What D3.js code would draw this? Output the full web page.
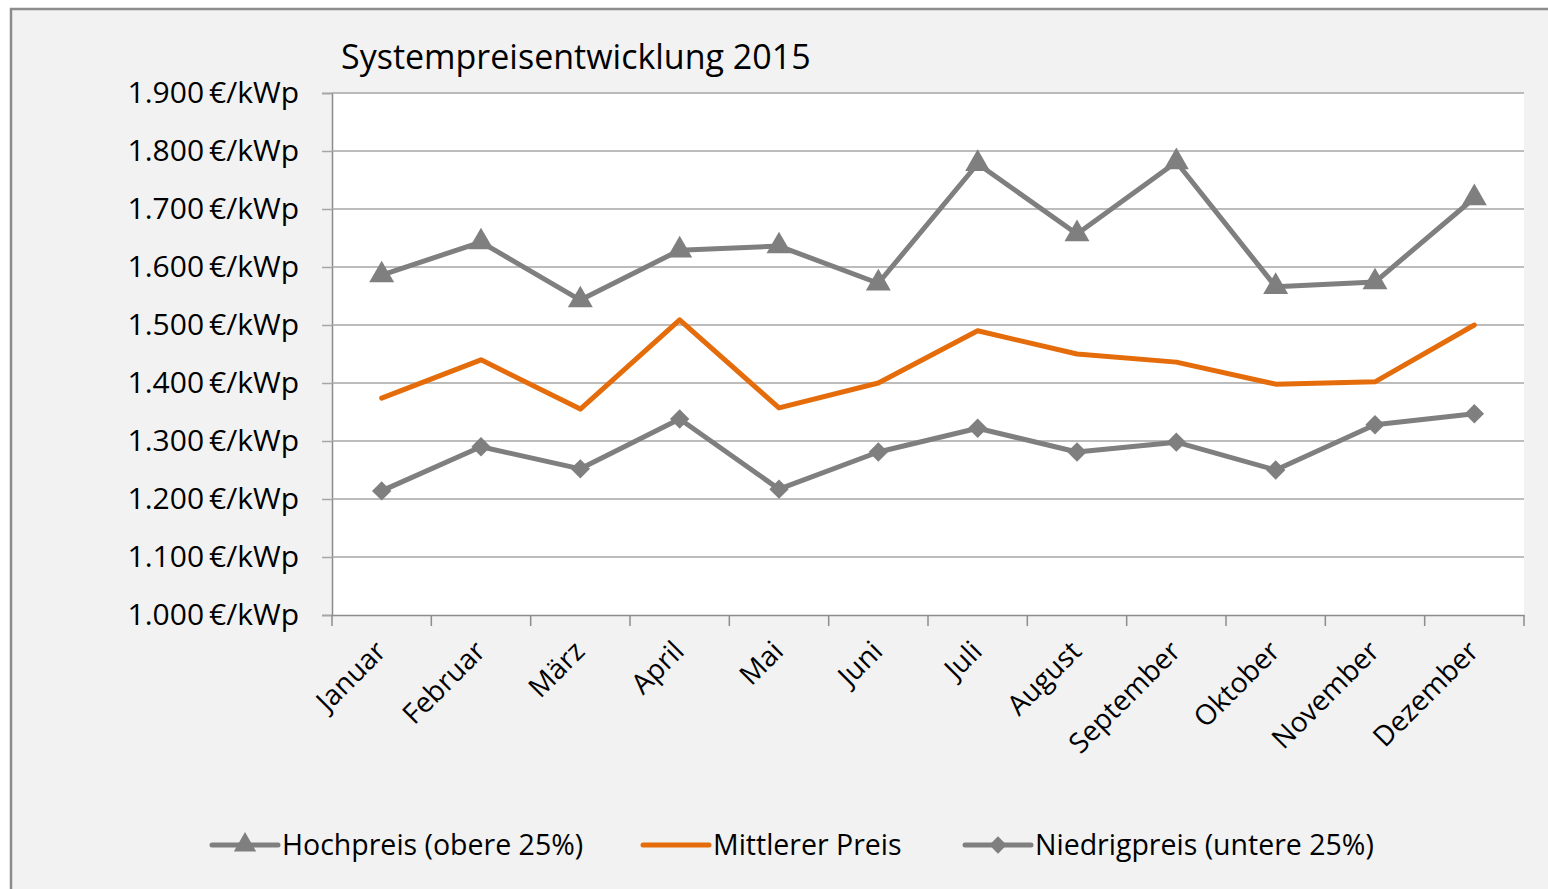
<!DOCTYPE html>
<html>
<head>
<meta charset="utf-8">
<script src="https://cdn.jsdelivr.net/npm/d3@7"></script>
<style>
  body { margin: 0; background: #ffffff; }
  text { font-family: "Open Sans", "Noto Sans", sans-serif; fill: #000; }
</style>
</head>
<body>
<div id="chart"></div>
<script>
const months = ['Januar', 'Februar', 'März', 'April', 'Mai', 'Juni', 'Juli',
    'August', 'September', 'Oktober', 'November', 'Dezember'];
const hochpreis = [1586, 1643, 1543, 1629, 1636, 1572, 1778, 1657, 1781, 1566, 1574, 1719];
const mittlerer = [1374, 1440, 1355, 1509, 1357, 1400, 1490, 1450, 1436, 1398, 1402, 1500];
const niedrigpreis = [1214, 1290, 1252, 1338, 1217, 1281, 1322, 1281, 1298, 1250, 1328, 1347];
const y_ticks = [1000, 1100, 1200, 1300, 1400, 1500, 1600, 1700, 1800, 1900];
const legend_labels = ['Hochpreis (obere 25%)', 'Mittlerer Preis', 'Niedrigpreis (untere 25%)'];

const width = 1548, height = 889;
const grey = '#7f7f7f';
const orange = '#e46c0a';

const svg = d3.select('#chart')
    .append('svg')
    .attr('width', width)
    .attr('height', height);

// chart frame
svg.append('rect')
    .attr('x', 11).attr('y', 9)
    .attr('width', width + 20).attr('height', height + 20)
    .attr('fill', '#f2f2f2')
    .attr('stroke', '#8c8c8c')
    .attr('stroke-width', 2.5);

const plot_left = 332, plot_right = 1524, plot_top = 93, plot_bottom = 615;

const x = d3.scaleBand().domain(months).range([plot_left, plot_right]);
const y = d3.scaleLinear().domain([1000, 1900]).range([plot_bottom, plot_top]);

// plot area
svg.append('rect')
    .attr('x', plot_left).attr('y', plot_top)
    .attr('width', plot_right - plot_left).attr('height', plot_bottom - plot_top)
    .attr('fill', '#ffffff');

// title
svg.append('text')
    .attr('x', 341).attr('y', 69)
    .attr('font-size', 34)
    .text('Systempreisentwicklung 2015');

// y axis with gridlines
const fmt = d => d3.format(',')(d).replace(',', '.') + '\u2009€/kWp';
const y_axis = svg.append('g')
    .attr('transform', `translate(${plot_left},0)`)
    .call(d3.axisLeft(y).tickValues(y_ticks).tickSize(10).tickFormat(fmt));
y_axis.select('.domain').attr('stroke', '#8c8c8c').attr('stroke-width', 1.5);
y_axis.selectAll('.tick line').attr('stroke', '#a6a6a6').attr('stroke-width', 1.5);
y_axis.selectAll('.tick text')
    .attr('x', -33)
    .attr('font-size', 30)
    .attr('font-family', '"Open Sans", sans-serif')
    .attr('fill', '#000');

svg.append('g')
    .selectAll('line')
    .data(y_ticks.slice(1))
    .join('line')
    .attr('x1', plot_left).attr('x2', plot_right)
    .attr('y1', d => y(d)).attr('y2', d => y(d))
    .attr('stroke', '#a6a6a6')
    .attr('stroke-width', 1.5);

// x axis
const x_axis = svg.append('g')
    .attr('transform', `translate(0,${plot_bottom})`)
    .call(d3.axisBottom(x).tickSize(0).tickFormat(''));
x_axis.select('.domain').attr('stroke', '#8c8c8c').attr('stroke-width', 1.5);

const boundaries = months.map(m => x(m)).concat([plot_right]);
svg.append('g')
    .selectAll('line')
    .data(boundaries)
    .join('line')
    .attr('x1', d => d).attr('x2', d => d)
    .attr('y1', plot_bottom).attr('y2', plot_bottom + 11)
    .attr('stroke', '#8c8c8c')
    .attr('stroke-width', 1.5);

svg.append('g')
    .selectAll('text')
    .data(months)
    .join('text')
    .attr('transform', d => `translate(${x(d) + x.bandwidth() / 2 + 6},${plot_bottom + 38}) rotate(-45)`)
    .attr('text-anchor', 'end')
    .attr('font-size', 28)
    .text(d => d);

// lines
const cx = (d, i) => x(months[i]) + x.bandwidth() / 2;
const line = d3.line().x(cx).y(d => y(d));

const series = [
    { values: hochpreis, color: grey, marker: d3.symbolTriangle, size: 270 },
    { values: mittlerer, color: orange, marker: null },
    { values: niedrigpreis, color: grey, marker: d3.symbolDiamond2, size: 240 }
];

series.forEach(s => {
    svg.append('path')
        .datum(s.values)
        .attr('d', line)
        .attr('fill', 'none')
        .attr('stroke', s.color)
        .attr('stroke-width', 5)
        .attr('stroke-linejoin', 'round')
        .attr('stroke-linecap', 'round');
    if (s.marker) {
        svg.append('g')
            .selectAll('path')
            .data(s.values)
            .join('path')
            .attr('transform', (d, i) => `translate(${cx(d, i)},${y(d)})`)
            .attr('d', d3.symbol().type(s.marker).size(s.size))
            .attr('fill', s.color);
    }
});

// legend
const legend_x = [212, 643, 965];
const legend_y = 845;
series.forEach((s, i) => {
    const g = svg.append('g').attr('transform', `translate(${legend_x[i]},${legend_y})`);
    g.append('line')
        .attr('x1', 0).attr('x2', 66)
        .attr('stroke', s.color)
        .attr('stroke-width', 5)
        .attr('stroke-linecap', 'round');
    if (s.marker) {
        g.append('path')
            .attr('transform', 'translate(33,0)')
            .attr('d', d3.symbol().type(s.marker).size(s.size * 0.8))
            .attr('fill', s.color);
    }
    g.append('text')
        .attr('x', 70).attr('y', 10)
        .attr('font-size', 28.5)
        .text(legend_labels[i]);
});
</script>
</body>
</html>
